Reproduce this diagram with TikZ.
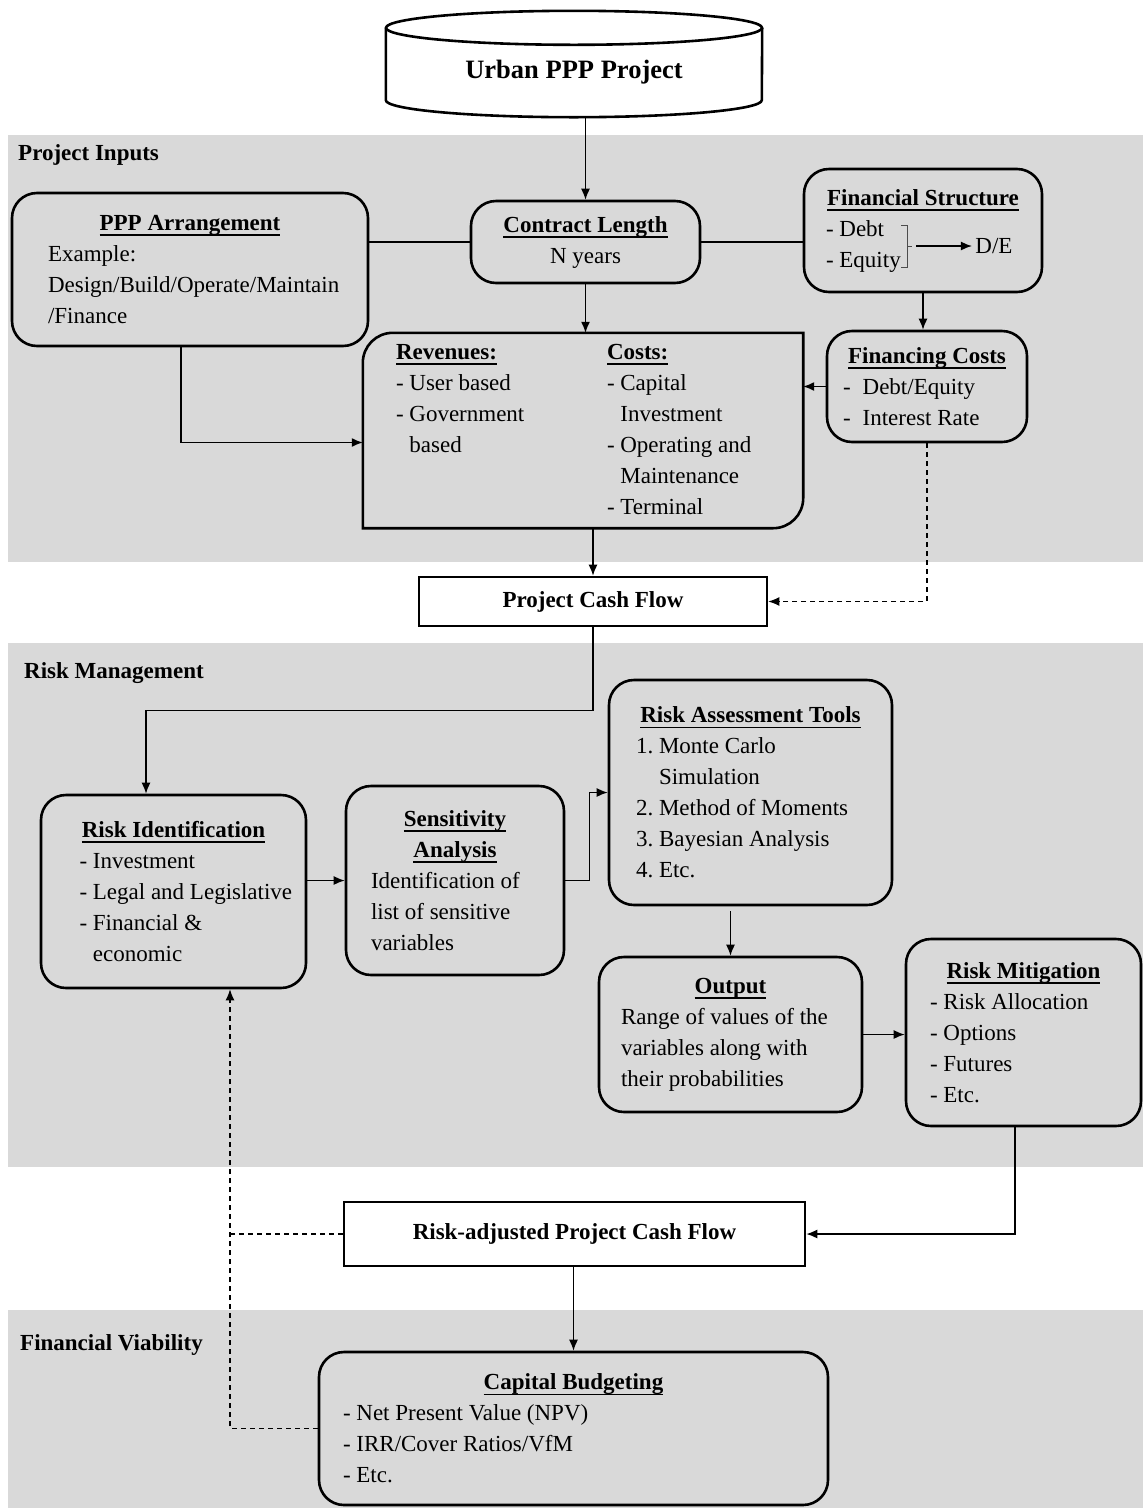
\documentclass[tikz,border=0pt]{standalone}
\usepackage{fontspec}
\setmainfont{Liberation Serif}
\usetikzlibrary{arrows.meta}
\definecolor{bandgray}{HTML}{D9D9D9}
\hyphenpenalty=10000
\newsavebox{\hdbox}
\newcommand{\hd}[1]{\leavevmode\sbox{\hdbox}{\textbf{#1}}\rlap{\rule[-5.5pt]{\wd\hdbox}{1.8pt}}\usebox{\hdbox}}
\newcommand{\hdc}[1]{\makebox[\linewidth]{\hd{#1}}}
\newcommand{\ind}{\hphantom{- }}
\tikzset{
  box/.style={draw, line width=2.6pt, rounded corners=25pt, align=flush left, font=\fontsize{23}{31}\selectfont},
  plainbox/.style={draw, line width=2.6pt, fill=white, font=\fontsize{23}{31}\selectfont\bfseries},
  lbl/.style={anchor=west, inner sep=0pt, font=\fontsize{23}{31}\selectfont\bfseries},
  conn/.style={line width=1.4pt},
  dconn/.style={line width=1.2pt, dash pattern=on 5pt off 4pt},
}
\begin{document}
\begin{tikzpicture}[x=1pt,y=-1pt,>={Latex[length=11pt,width=9pt]}]
\useasboundingbox (0,0) rectangle (1143,1508);
% section bands
\fill[bandgray] (8,135) rectangle (1143,562);
\fill[bandgray] (8,643) rectangle (1143,1167);
\fill[bandgray] (8,1310) rectangle (1143,1508);
\node[lbl] (inputs) at (18,155) {Project Inputs};
\node[lbl] (riskmgmt) at (24,673) {Risk Management};
\node[lbl] (viability) at (20,1345) {Financial Viability};

% project (cylinder)
\node[minimum width=376pt, minimum height=89pt, font=\fontsize{26.5}{31}\selectfont\bfseries] (urban) at (574,72.5) {Urban PPP Project};
\draw[line width=2.6pt] (urban.north) ellipse [x radius=188pt, y radius=17pt];
\draw[line width=2.6pt] (urban.north west) -- ([yshift=17pt]urban.south west)
  arc[start angle=180, end angle=360, x radius=188pt, y radius=17pt] -- (urban.north east);

% project inputs
\node[box, minimum width=356pt, minimum height=153pt, text width=284pt] (ppp) at (190,269.5)
  {\hdc{PPP Arrangement}\\Example:\\\mbox{Design/Build/Operate/Maintain}\\/Finance};
\node[box, align=flush center, minimum width=229pt, minimum height=82pt] (cl) at (585.5,242)
  {\hd{Contract Length}\\N years};
\node[box, minimum width=238pt, minimum height=123pt, text width=194pt] (fs) at (923,230.5)
  {\hdc{Financial Structure}\\- Debt\\- Equity};
\node[font=\fontsize{23}{31}\selectfont] (de) at (994,246) {D/E};
\coordinate (brk) at (916,246);
\draw[line width=1pt, black!70] (901,225) -- (907,225) -- (907,267) -- (901,267) (907,246) -- (912,246);
\node[box, minimum width=200pt, minimum height=111pt, text width=168pt] (fc) at (927,386.5)
  {\hdc{Financing Costs}\\-\hspace{12pt}Debt/Equity\\-\hspace{12pt}Interest Rate};
\node[minimum width=440pt, minimum height=195pt, text width=374pt, align=flush left, font=\fontsize{23}{31}\selectfont] (rc) at (583,430.5)
  {\begin{tabular}[t]{@{}p{211pt}@{}}\hd{Revenues:}\\- User based\\- Government\\\ind based\end{tabular}%
   \begin{tabular}[t]{@{}l@{}}\hd{Costs:}\\- Capital\\\ind Investment\\- Operating and\\\ind Maintenance\\- Terminal\end{tabular}};
\draw[line width=2.6pt] (rc.south west) -- ([yshift=-30pt]rc.north west) arc[start angle=180, end angle=90, radius=30pt]
  -- (rc.north east) -- ([yshift=30pt]rc.south east) arc[start angle=0, end angle=-90, radius=30pt] -- cycle;
\node[plainbox, minimum width=348pt, minimum height=49pt] (pcf) at (593,601.5) {Project Cash Flow};

% risk management
\node[box, minimum width=265pt, minimum height=193pt, text width=188pt] (ri) at (173.5,891.5)
  {\hdc{Risk Identification}\\- Investment\\\mbox{- Legal and Legislative}\\- Financial \&\\\ind economic};
\node[box, minimum width=218pt, minimum height=189pt, text width=168pt] (sa) at (455,880.5)
  {\hdc{Sensitivity}\\\hdc{Analysis}\\Identification of\\list of sensitive\\variables};
\node[box, minimum width=283pt, minimum height=225pt, text width=229pt] (rat) at (750.5,792.5)
  {\hdc{Risk Assessment Tools}\\1.~Monte Carlo\\\hphantom{1.~}Simulation\\2.~Method of Moments\\3.~Bayesian Analysis\\4.~Etc.};
\node[box, minimum width=263pt, minimum height=155pt, text width=219pt] (out) at (730.5,1034.5)
  {\hdc{Output}\\Range of values of the\\variables along with\\their probabilities};
\node[box, minimum width=235pt, minimum height=187pt, text width=187pt] (rm) at (1023.5,1032.5)
  {\hdc{Risk Mitigation}\\- Risk Allocation\\- Options\\- Futures\\- Etc.};
\node[plainbox, minimum width=461pt, minimum height=64pt] (rap) at (574.5,1234) {Risk-adjusted Project Cash Flow};

% financial viability
\node[box, minimum width=509pt, minimum height=153pt, text width=461pt] (cb) at (573.5,1428.5)
  {\hdc{Capital Budgeting}\\- Net Present Value (NPV)\\- IRR/Cover Ratios/VfM\\- Etc.};

% connectors
\draw[conn,->] (urban.south -| cl.north) -- (cl.north);
\draw[conn] (ppp.east |- cl.west) -- (cl.west);
\draw[conn] (cl.east) -- (cl.east -| fs.west);
\draw[conn,->] (cl.south) -- (cl.south |- rc.north);
\draw[conn,->] (fs.south) -- (fs.south |- fc.north);
\draw[conn,->] (fc.west) -- (fc.west -| rc.east);
\draw[conn,->] ([xshift=-9pt]ppp.south) |- ([yshift=-12pt]rc.west);
\draw[conn,->] (brk) -- (de.west);
\draw[conn,->] (pcf.north |- rc.south) -- (pcf.north);
\draw[dconn,->] (fc.south) |- (pcf.east);
\draw[conn,->] (pcf.south) -- ++(0,83) -| ([xshift=-27.5pt]ri.north);
\draw[conn,->] (ri.east |- sa.west) -- (sa.west);
\draw[conn,->] (sa.east) -- ++(24,0) |- (rat.west);
\draw[conn,->] ([yshift=-5pt]out.north |- rat.south) -- (out.north);
\draw[conn,->] (out.east) -- (out.east -| rm.west);
\draw[conn,->] ([xshift=-8.5pt]rm.south) |- (rap.east);
\draw[conn,->] (rap.south -| cb.north) -- (cb.north);
\draw[dconn] (rap.west) -- ++(-114,0);
\draw[dconn,->] (cb.west) -| ([xshift=56.5pt]ri.south);
\end{tikzpicture}
\end{document}
